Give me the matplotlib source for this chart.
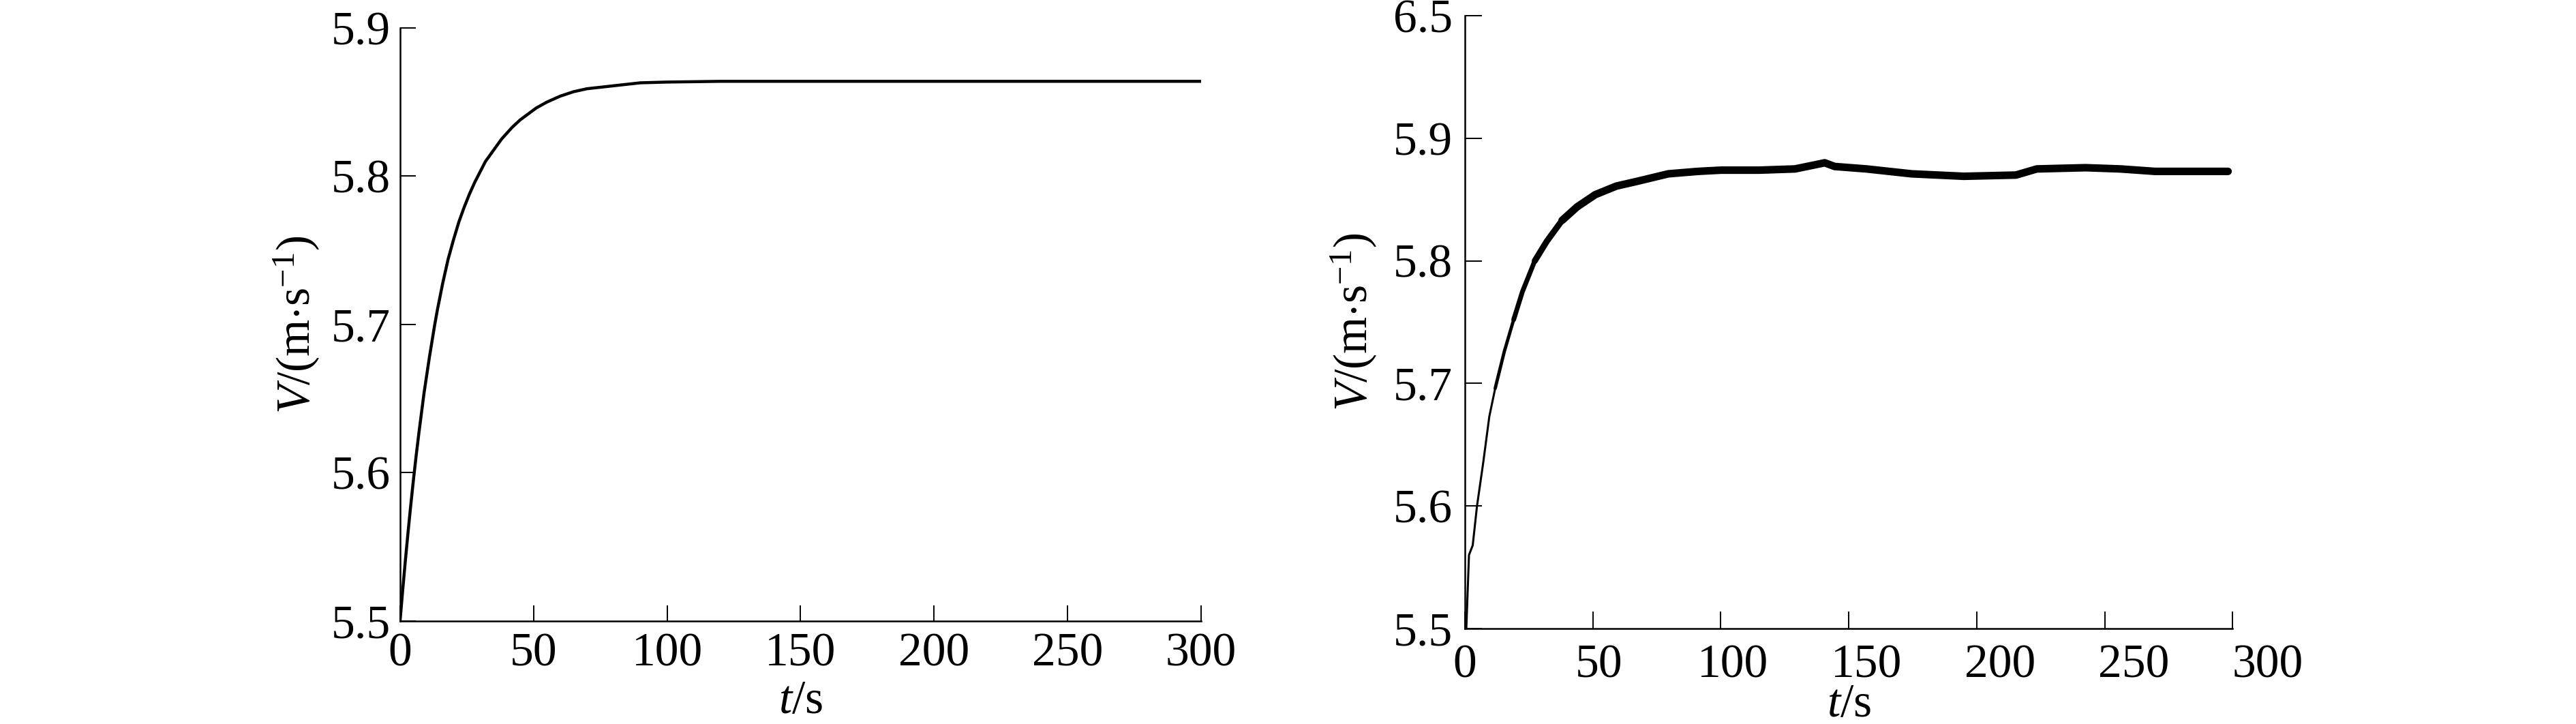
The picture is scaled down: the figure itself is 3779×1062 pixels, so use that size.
import matplotlib
matplotlib.use('Agg')
import matplotlib.pyplot as plt
import numpy as np

plt.rcParams['font.family'] = ['Liberation Serif', 'DejaVu Serif']
plt.rcParams['mathtext.fontset'] = 'custom'
plt.rcParams['mathtext.rm'] = 'Liberation Serif'
plt.rcParams['mathtext.it'] = 'Liberation Serif:italic'

# left panel: smooth simulated response
t_model = [0, 1, 2, 3, 4, 5, 6, 7, 8, 9, 10, 11, 12, 13, 14, 15, 16, 18, 20, 22,
           24, 26, 28, 30, 32, 34, 36, 38, 40, 42, 45, 48, 51, 55, 60,
           65, 70, 80, 90, 100, 120, 150, 200, 250, 300]
v_model = [5.500, 5.521, 5.541, 5.560, 5.578, 5.595, 5.611, 5.626, 5.640, 5.654,
           5.666, 5.678, 5.689, 5.700, 5.710, 5.719, 5.728, 5.744, 5.757, 5.769,
           5.779, 5.788, 5.796, 5.803, 5.810, 5.815, 5.820, 5.825, 5.829, 5.833,
           5.838, 5.842, 5.846, 5.850, 5.854,
           5.857, 5.859, 5.861, 5.863, 5.8635, 5.864, 5.864, 5.864, 5.864, 5.864]

# right panel: measured response (noisy)
t_meas = [0.5, 1.5, 2.9, 4.5, 6.8, 9.1, 11.3, 14.7, 18.2, 21.5, 26.1, 30.6, 36.3,
          41.9, 48.7, 56.6, 64.6, 76.0, 87.1, 95.7, 110.0, 123.4, 134.5, 138.2,
          150.1, 167.0, 186.5, 206.0, 213.8, 232.0, 245.0, 258.0, 285.3]
v_meas = [5.500, 5.560, 5.568, 5.600, 5.635, 5.673, 5.696, 5.726, 5.752, 5.775,
          5.800, 5.816, 5.833, 5.844, 5.854, 5.861, 5.865, 5.871, 5.873, 5.874,
          5.874, 5.875, 5.880, 5.877, 5.875, 5.871, 5.869, 5.870, 5.875, 5.876,
          5.875, 5.873, 5.873]

x_ticks = [0, 50, 100, 150, 200, 250, 300]
y_ticks_left = [5.5, 5.6, 5.7, 5.8, 5.9]
y_ticks_right = [5.5, 5.6, 5.7, 5.8, 5.9, 6.0]
y_labels_right = ['5.5', '5.6', '5.7', '5.8', '5.9', '6.5']

ylab = r'$V$/(m$\cdot$s$^{-1}$)'
xlab = r'$t$/s'
fs = 50

fig = plt.figure(figsize=(37.79, 10.62), dpi=100)
ax1 = fig.add_axes([0.1553, 0.1422, 0.3109, 0.8192])
ax2 = fig.add_axes([0.5687, 0.1318, 0.2980, 0.8465])

for ax in (ax1, ax2):
    ax.spines['top'].set_visible(False)
    ax.spines['right'].set_visible(False)
    ax.spines['left'].set_linewidth(1.8)
    ax.spines['bottom'].set_linewidth(1.8)
    ax.tick_params(direction='in', length=16.5, width=1.4, labelsize=fs)

# left
ax1.plot(t_model, v_model, color='black', lw=3.2)
ax1.set_xlim(0, 300)
ax1.set_ylim(5.5, 5.9)
ax1.set_xticks(x_ticks)
ax1.set_yticks(y_ticks_left, [f'{v:.1f}' for v in y_ticks_left])
ax1.tick_params(axis='x', pad=12)
ax1.tick_params(axis='y', pad=10)
ax1.set_xlabel(xlab, fontsize=fs)
ax1.set_ylabel(ylab, fontsize=fs)
ax1.xaxis.set_label_coords(0.5, -0.10)
ax1.yaxis.set_label_coords(-0.098, 0.5)

# right: axis was redrawn shorter than its labels, ticks end at ~287 s
t_end = 287
ax2.plot(t_meas, v_meas, color='black', lw=2.2)
# the noise band gets wider as the signal settles
for start, lw in [(6, 3.5), (8, 5), (10, 6.5), (12, 8)]:
    ax2.plot(t_meas[start:], v_meas[start:], color='black', lw=lw,
             solid_capstyle='round')
ax2.set_xlim(0, t_end)
ax2.set_ylim(5.5, 6.0)
ax2.set_xticks(np.linspace(0, t_end, len(x_ticks)), [''] * len(x_ticks))
for v in x_ticks:
    ax2.text(v, -0.026, str(v), transform=ax2.get_xaxis_transform(),
             ha='center', va='top', fontsize=fs)
ax2.set_yticks(y_ticks_right, y_labels_right)
ax2.tick_params(axis='y', pad=13, length=18)
ax2.tick_params(axis='x', length=18)
ax2.set_xlabel(xlab, fontsize=fs)
ax2.set_ylabel(ylab, fontsize=fs)
ax2.xaxis.set_label_coords(0.5, -0.09)
ax2.yaxis.set_label_coords(-0.112, 0.5)

fig.savefig('out.png', dpi=100)
